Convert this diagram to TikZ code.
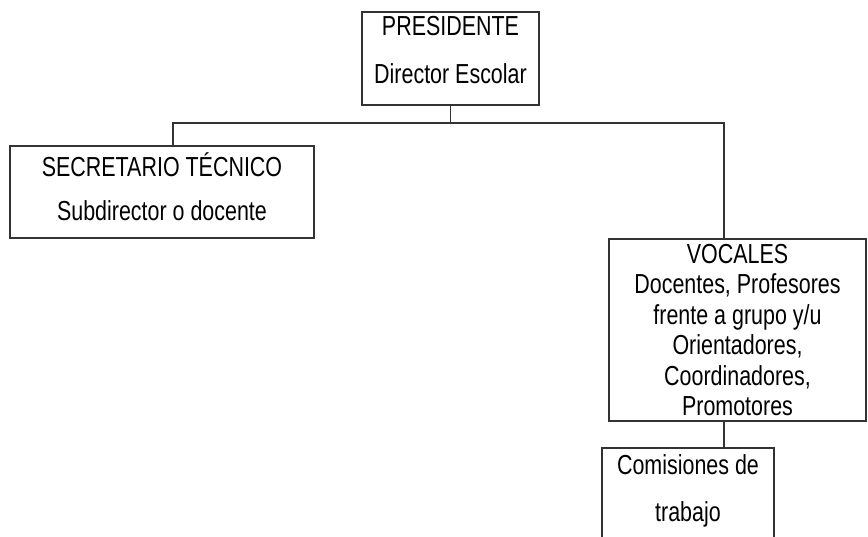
\documentclass[tikz,border=0pt]{standalone}
\usepackage{fontspec}
\setmainfont{Liberation Sans}[FakeStretch=0.78]

\begin{document}
\begin{tikzpicture}[x=1pt, y=-1pt,
  box/.style={draw=black!80, line width=1.3pt, inner sep=0pt,
    font=\fontsize{27.5}{30.4}\selectfont},
  link/.style={draw=black!80, line width=1.3pt},
every node/.style = {align=center}]
\useasboundingbox (0,0) rectangle (868,537);

\node[box, minimum width=177pt, minimum height=93pt, text depth=17pt] (pres) at (450.5,58.5)
	{PRESIDENTE\\[17pt]Director Escolar};
\node[box, minimum width=304pt, minimum height=92pt, text depth=11pt] (secr) at (162,192)
	{SECRETARIO TÉCNICO\\[14pt]Subdirector o docente};
\node[box, minimum width=257pt, minimum height=182pt] (voc) at (737.5,330)
	{VOCALES\\Docentes, Profesores\\frente a grupo y/u\\Orientadores,\\Coordinadores,\\Promotores};
\node[box, minimum width=172pt, minimum height=104pt, text depth=24pt] (com) at (688,500)
	{Comisiones de\\[17pt]trabajo};

\coordinate (busL) at (173,123);
\coordinate (busR) at (724,123);
\draw[link] (pres.south) -- (pres.south |- busL);
\draw[link] (busL |- secr.north) -- (busL) -- (busR) -- (busR |- voc.north);
\draw[link] (busR |- voc.south) -- (busR |- com.north);
\end{tikzpicture}
\end{document}
